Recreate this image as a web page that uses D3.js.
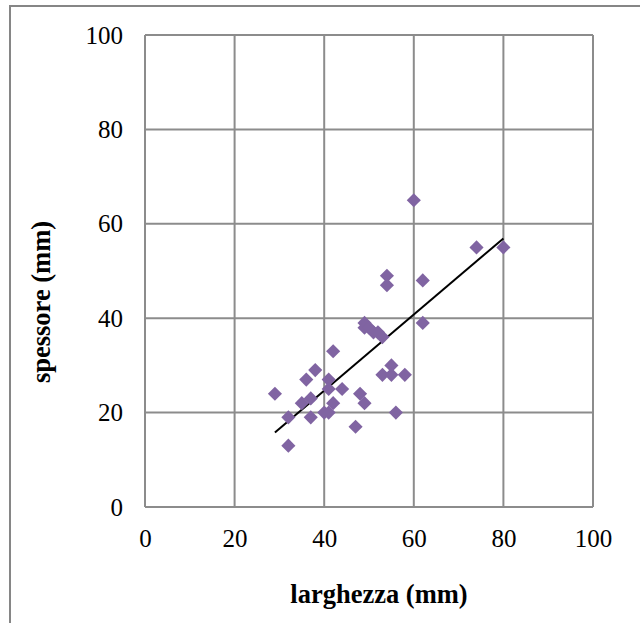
<!DOCTYPE html>
<html>
<head>
<meta charset="utf-8">
<script src="https://cdn.jsdelivr.net/npm/d3@7"></script>
<style>
  body { margin: 0; background: #fff; }
  svg { display: block; font-family: "Liberation Serif", "Times New Roman", serif; }
</style>
</head>
<body>
<div class="container-scatter"></div>
<script>
const larghezza = [29, 32, 32, 35, 37, 36, 38, 37, 41, 41, 42, 44, 42, 40, 41, 48, 49, 47,
  49, 49, 50, 51, 52, 53, 62, 55, 53, 55, 58, 56, 60, 74, 80, 54, 54, 62];
const spessore = [24, 19, 13, 22, 23, 27, 29, 19, 27, 25, 33, 25, 22, 20, 20, 24, 22, 17,
  39, 38, 38, 37, 37, 36, 39, 30, 28, 28, 28, 20, 65, 55, 55, 49, 47, 48];
const ticksX = [0, 20, 40, 60, 80, 100];
const ticksY = [0, 20, 40, 60, 80, 100];
const labelX = 'larghezza (mm)';
const labelY = 'spessore (mm)';

const width = 640;
const height = 623;
const plot = { left: 145, right: 593, top: 35, bottom: 507 };

const points = larghezza.map((x, i) => ({ x, y: spessore[i] }));

const scaleX = d3.scaleLinear().domain([0, 100]).range([plot.left, plot.right]);
const scaleY = d3.scaleLinear().domain([0, 100]).range([plot.bottom, plot.top]);

// linear trend line (least squares), drawn over the data range
const meanX = d3.mean(points, d => d.x);
const meanY = d3.mean(points, d => d.y);
const slope = d3.sum(points, d => (d.x - meanX) * (d.y - meanY)) /
  d3.sum(points, d => (d.x - meanX) ** 2);
const intercept = meanY - slope * meanX;
const trend = d3.extent(larghezza).map(x => ({ x, y: intercept + slope * x }));

const svg = d3.select('.container-scatter')
  .append('svg')
  .attr('width', width)
  .attr('height', height);

// outer chart border (top and left visible)
svg.append('path')
  .attr('d', `M10,${height} L10,6 L${width},6`)
  .attr('fill', 'none')
  .attr('stroke', '#868686')
  .attr('stroke-width', 2);

const gridColor = '#8c8c8c';

svg.append('g')
  .selectAll('line')
  .data(ticksX)
  .enter()
  .append('line')
  .attr('x1', d => scaleX(d))
  .attr('x2', d => scaleX(d))
  .attr('y1', plot.top)
  .attr('y2', plot.bottom)
  .attr('stroke', gridColor)
  .attr('stroke-width', 2);

svg.append('g')
  .selectAll('line')
  .data(ticksY)
  .enter()
  .append('line')
  .attr('x1', plot.left)
  .attr('x2', plot.right)
  .attr('y1', d => scaleY(d))
  .attr('y2', d => scaleY(d))
  .attr('stroke', gridColor)
  .attr('stroke-width', 2);

const axisX = d3.axisBottom(scaleX).tickValues(ticksX).tickSize(0).tickPadding(22);
const axisY = d3.axisLeft(scaleY).tickValues(ticksY).tickSize(0).tickPadding(22);

const groupAxisX = svg.append('g')
  .attr('transform', `translate(0, ${plot.bottom})`)
  .call(axisX);
const groupAxisY = svg.append('g')
  .attr('transform', `translate(${plot.left}, 0)`)
  .call(axisY);

[groupAxisX, groupAxisY].forEach(g => {
  g.select('.domain').remove();
  g.selectAll('text')
    .attr('font-family', '"Liberation Serif", "Times New Roman", serif')
    .attr('font-size', 25)
    .attr('fill', '#000');
});

svg.append('path')
  .attr('d', d3.line().x(d => scaleX(d.x)).y(d => scaleY(d.y))(trend))
  .attr('fill', 'none')
  .attr('stroke', '#000')
  .attr('stroke-width', 2);

const diamond = d3.symbol().type(d3.symbolSquare).size(100);

svg.append('g')
  .selectAll('path.point')
  .data(points)
  .enter()
  .append('path')
  .attr('class', 'point')
  .attr('d', diamond)
  .attr('transform', d => `translate(${scaleX(d.x)}, ${scaleY(d.y)}) rotate(45)`)
  .attr('fill', '#8064a2');

svg.append('text')
  .attr('x', 379)
  .attr('y', 603)
  .attr('text-anchor', 'middle')
  .attr('font-size', 26.5)
  .attr('font-weight', 'bold')
  .text(labelX);

svg.append('text')
  .attr('transform', 'translate(50, 302) rotate(-90)')
  .attr('text-anchor', 'middle')
  .attr('font-size', 26.5)
  .attr('font-weight', 'bold')
  .text(labelY);
</script>
</body>
</html>
